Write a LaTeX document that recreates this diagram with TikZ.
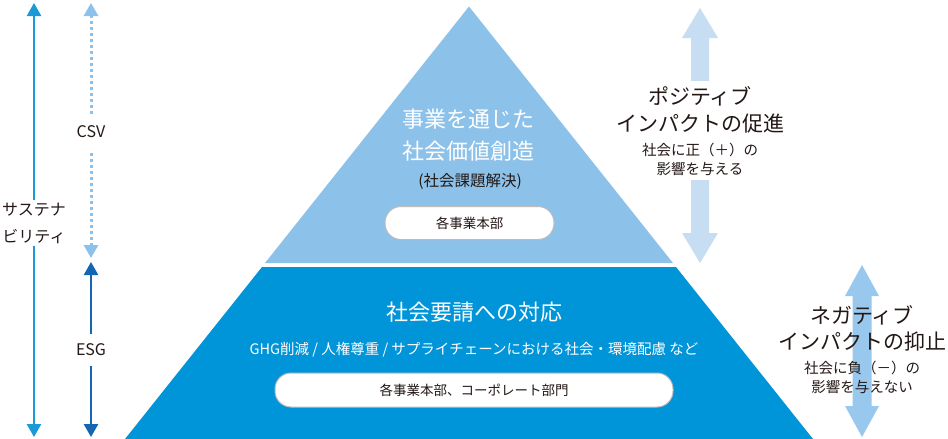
\documentclass[tikz,border=0pt]{standalone}
\usepackage{fontspec}
\setmainfont{Noto Sans CJK JP}
\usetikzlibrary{arrows.meta}
\definecolor{pyrlight}{HTML}{8CC1EA}
\definecolor{pyrdark}{HTML}{0094D8}
\definecolor{arrpale}{HTML}{C6DDF2}
\definecolor{arrmid}{HTML}{98C8ED}
\definecolor{susblue}{HTML}{1A9AD7}
\definecolor{csvblue}{HTML}{8CC1EA}
\definecolor{esgblue}{HTML}{1466B2}
\definecolor{ink}{HTML}{231815}
\definecolor{boxline}{HTML}{BBBBBB}
\begin{document}
\begin{tikzpicture}[x=1pt,y=-1pt,
  every node/.style={inner sep=0pt, text=ink},
  bitip/.style={{Triangle[width=14pt,length=13pt]}-{Triangle[width=14pt,length=13pt]}},
  pillbox/.style={draw=boxline, line width=1pt, fill=white, rounded corners=16pt, font=\fontsize{13.5}{16}\selectfont},
  titletext/.style={text=white, align=center, font=\fontsize{22}{32}\selectfont},
  sidehead/.style={align=center, font=\fontsize{21}{26.5}\selectfont},
  sidesub/.style={align=center, font=\fontsize{14.5}{19}\selectfont},
  leftlabel/.style={fill=white, align=center, font=\fontsize{16}{27}\selectfont, inner ysep=3pt}
]
\useasboundingbox (0,0) rectangle (948,439);

% pyramid
\fill[pyrlight] (469,6.5) -- (265,263) -- (673,263) -- cycle;
\fill[pyrdark] (262,267) -- (676,267) -- (813,439) -- (125,439) -- cycle;

% right big arrows
\fill[arrpale] (700,8) -- (718,38) -- (709,38) -- (709,233) -- (718,233) -- (700,263)
  -- (682,233) -- (691,233) -- (691,38) -- (682,38) -- cycle;
\fill[arrmid] (862,265) -- (879,296) -- (871.5,296) -- (871.5,406) -- (879,406) -- (862,437)
  -- (845,406) -- (852.5,406) -- (852.5,296) -- (845,296) -- cycle;

% left arrows
\coordinate (sTop) at (34,3);
\coordinate (sBot) at (34,437);
\coordinate (cTop) at (91,3);
\coordinate (cBot) at (91,258);
\coordinate (eTop) at (91,262);
\coordinate (eBot) at (91,437);
\draw[bitip, susblue, line width=2.5pt] (sTop) -- (sBot);
\draw[bitip, csvblue, line width=3pt, dash pattern=on 3pt off 3pt] (cTop) -- (cBot);
\draw[bitip, esgblue, line width=2.5pt] (eTop) -- (eBot);
\node[leftlabel] (sus) at (34,223) {サステナ\\ビリティ};
\node[leftlabel, inner ysep=12pt] (csv) at (91,132) {CSV};
\node[leftlabel, inner ysep=10pt] (esg) at (91,350) {ESG};

% pyramid top texts
\node[titletext] (ttitle) at (468,135) {事業を通じた\\社会価値創造};
\node[font=\fontsize{15.5}{18}\selectfont] (tsub) at (470,181) {(社会課題解決)};
\node[pillbox, minimum width=169pt, minimum height=33pt] (tbox) at (469.5,223) {各事業本部};

% pyramid bottom texts
\node[titletext] (btitle) at (474,312) {社会要請への対応};
\node[text=white, font=\fontsize{14.5}{18}\selectfont] (bsub) at (474,350) {GHG削減 / 人権尊重 / サプライチェーンにおける社会・環境配慮 など};
\node[pillbox, minimum width=398pt, minimum height=34pt] (bbox) at (474,390) {各事業本部、コーポレート部門};

% right texts
\node[sidehead, fill=white, inner ysep=6pt, inner xsep=1pt] (poshead) at (700,110) {ポジティブ\\インパクトの促進};
\node[sidesub, fill=white, inner ysep=5pt, inner xsep=1pt] (possub) at (700,159) {社会に正（＋）の\\影響を与える};
\node[sidehead] (neghead) at (862,328.5) {ネガティブ\\インパクトの抑止};
\node[sidesub] (negsub) at (862,377.5) {社会に負（－）の\\影響を与えない};
\end{tikzpicture}
\end{document}
